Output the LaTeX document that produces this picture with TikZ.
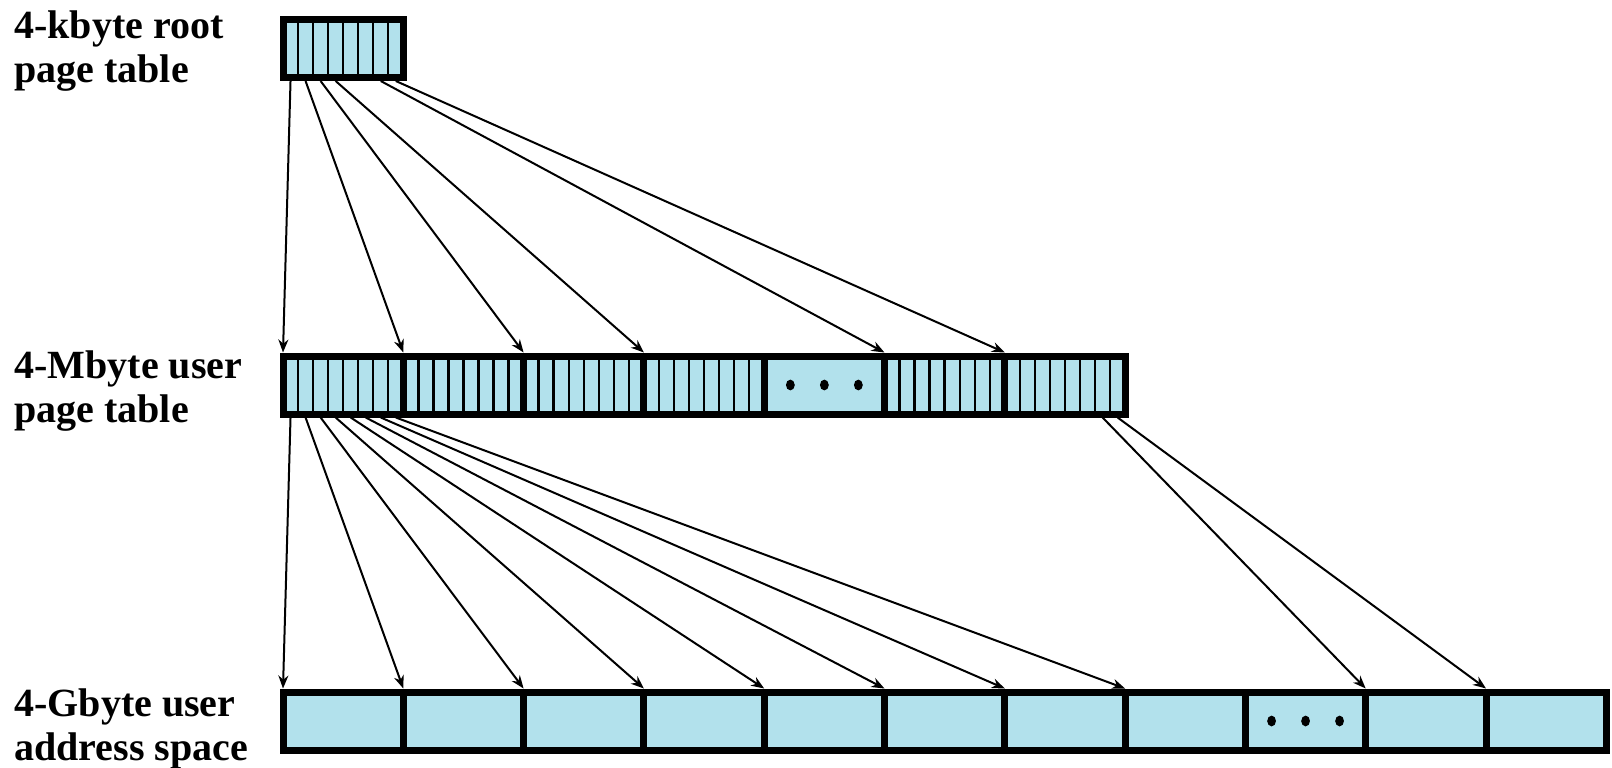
\documentclass[tikz,border=0pt]{standalone}
\usepackage{fontspec}
\setmainfont{Liberation Serif}
\usepackage{xcolor}
\usetikzlibrary{arrows.meta, positioning}
\definecolor{cellblue}{RGB}{178,225,236}
\tikzset{
    cell/.style={rectangle, draw, line width=3.5pt, fill=cellblue, minimum width=60.15pt, minimum height=29pt, inner sep=0pt, outer sep=0pt},
    stripecell/.style={cell, path picture={
        \foreach \k in {1,...,7}
            \draw[black, line width=1.2pt] ([xshift=\k*7.52pt]path picture bounding box.south west) -- ([xshift=\k*7.52pt]path picture bounding box.north west);
    }},
    dotscell/.style={cell, path picture={
        \foreach \dx in {-17,0,17}
            \fill[black] ([xshift=\dx pt]path picture bounding box.center) ellipse (2.2pt and 2.7pt);
    }},
    arrow/.style={-{Stealth[length=6.5pt, width=5pt]}, line width=1pt},
    tablelabel/.style={anchor=north west, align=left, inner sep=0pt, font=\fontsize{20}{22}\selectfont\bfseries}
}
\begin{document}
\begin{tikzpicture}[x=0.5pt, y=-0.5pt]
    \useasboundingbox (0,0) rectangle (1612,767);

    % labels
    \node (lroot) [tablelabel] at (14,10) {4-kbyte root\\page table};
    \node (luser) [tablelabel] at (14,350) {4-Mbyte user\\page table};
    \node (laddr) [tablelabel] at (14,688) {4-Gbyte user\\address space};

    % root page table
    \node (root) [stripecell] at (343.15,48.5) {};

    % user page table
    \node (m1) [stripecell] at (343.15,385) {};
    \node (m2) [stripecell, right=0pt of m1] {};
    \node (m3) [stripecell, right=0pt of m2] {};
    \node (m4) [stripecell, right=0pt of m3] {};
    \node (m5) [dotscell, right=0pt of m4] {};
    \node (m6) [stripecell, right=0pt of m5] {};
    \node (m7) [stripecell, right=0pt of m6] {};

    % user address space
    \node (b1) [cell] at (343.15,721) {};
    \node (b2) [cell, right=0pt of b1] {};
    \node (b3) [cell, right=0pt of b2] {};
    \node (b4) [cell, right=0pt of b3] {};
    \node (b5) [cell, right=0pt of b4] {};
    \node (b6) [cell, right=0pt of b5] {};
    \node (b7) [cell, right=0pt of b6] {};
    \node (b8) [cell, right=0pt of b7] {};
    \node (b9) [dotscell, right=0pt of b8] {};
    \node (b10) [cell, right=0pt of b9] {};
    \node (b11) [cell, right=0pt of b10] {};

    % root -> user page table
    \draw[arrow] ([xshift=3.76pt, yshift=-1.75pt]root.south west) -- ([yshift=1.75pt]m1.north west);
    \draw[arrow] ([xshift=11.28pt, yshift=-1.75pt]root.south west) -- ([yshift=1.75pt]m2.north west);
    \draw[arrow] ([xshift=18.8pt, yshift=-1.75pt]root.south west) -- ([yshift=1.75pt]m3.north west);
    \draw[arrow] ([xshift=26.32pt, yshift=-1.75pt]root.south west) -- ([yshift=1.75pt]m4.north west);
    \draw[arrow] ([xshift=48.88pt, yshift=-1.75pt]root.south west) -- ([yshift=1.75pt]m6.north west);
    \draw[arrow] ([xshift=56.4pt, yshift=-1.75pt]root.south west) -- ([yshift=1.75pt]m7.north west);

    % user page table -> address space
    \draw[arrow] ([xshift=3.76pt, yshift=-1.75pt]m1.south west) -- ([yshift=1.75pt]b1.north west);
    \draw[arrow] ([xshift=11.28pt, yshift=-1.75pt]m1.south west) -- ([yshift=1.75pt]b2.north west);
    \draw[arrow] ([xshift=18.8pt, yshift=-1.75pt]m1.south west) -- ([yshift=1.75pt]b3.north west);
    \draw[arrow] ([xshift=26.32pt, yshift=-1.75pt]m1.south west) -- ([yshift=1.75pt]b4.north west);
    \draw[arrow] ([xshift=33.84pt, yshift=-1.75pt]m1.south west) -- ([yshift=1.75pt]b5.north west);
    \draw[arrow] ([xshift=41.36pt, yshift=-1.75pt]m1.south west) -- ([yshift=1.75pt]b6.north west);
    \draw[arrow] ([xshift=48.88pt, yshift=-1.75pt]m1.south west) -- ([yshift=1.75pt]b7.north west);
    \draw[arrow] ([xshift=56.4pt, yshift=-1.75pt]m1.south west) -- ([yshift=1.75pt]b8.north west);
    \draw[arrow] ([xshift=48.88pt, yshift=-1.75pt]m7.south west) -- ([yshift=1.75pt]b10.north west);
    \draw[arrow] ([xshift=56.4pt, yshift=-1.75pt]m7.south west) -- ([yshift=1.75pt]b11.north west);
\end{tikzpicture}
\end{document}
